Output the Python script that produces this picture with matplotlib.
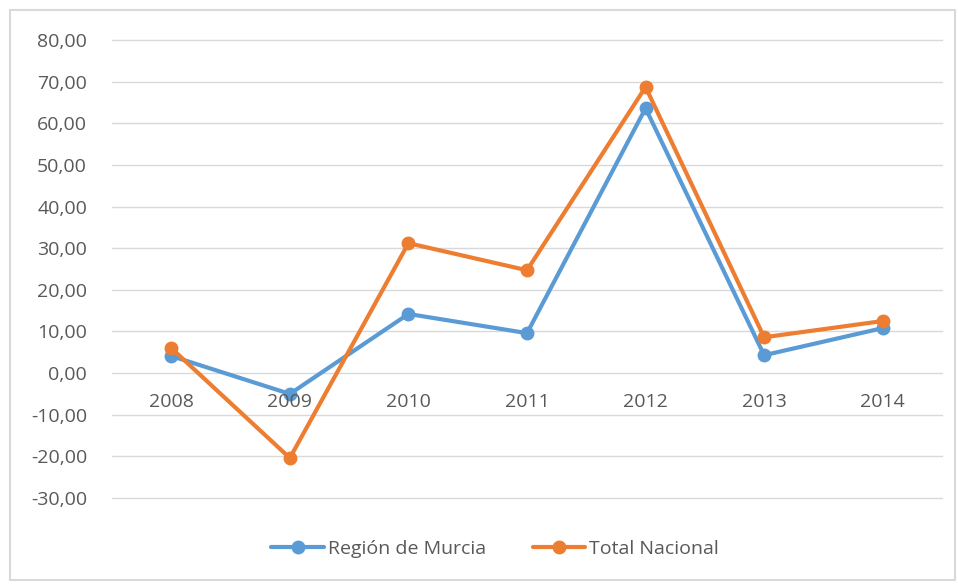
import matplotlib.pyplot as plt
from matplotlib.patches import Rectangle

# ====== Data ====== #
YEARS = ["2008", "2009", "2010", "2011", "2012", "2013", "2014"]
MURCIA = [4.1, -5.0, 14.2, 9.6, 63.6, 4.3, 10.8]
NACIONAL = [6.0, -20.4, 31.2, 24.7, 68.7, 8.6, 12.5]
Y_TICKS = [-30, -20, -10, 0, 10, 20, 30, 40, 50, 60, 70, 80]

# ====== Style ====== #
BLUE = "#5B9BD5"
ORANGE = "#ED7D31"
GRID = "#D9D9D9"
TEXT = "#595959"
FONT = "Open Sans"
FS = 14
W, H = 958, 584

fig = plt.figure(figsize=(W / 100, H / 100), dpi=100)
fig.patch.set_facecolor("white")
fig.patches.append(Rectangle((10 / W, 4 / H), 945 / W, 1 - 14 / H, transform=fig.transFigure,
                             fill=False, edgecolor=GRID, linewidth=1.5))

ax = fig.add_axes([112 / W, 1 - 498 / H, (942 - 112) / W, (498 - 40) / H])
x = list(range(len(YEARS)))

for yv in Y_TICKS:
    ax.axhline(yv, color=GRID, linewidth=1, zorder=0, clip_on=False)

ax.plot(x, MURCIA, color=BLUE, linewidth=3, marker="o", markersize=9,
        label="Región de Murcia", solid_capstyle="round", zorder=3)
ax.plot(x, NACIONAL, color=ORANGE, linewidth=3, marker="o", markersize=9,
        label="Total Nacional", solid_capstyle="round", zorder=4)

ax.set_xlim(-0.5, len(YEARS) - 0.5)
ax.set_ylim(-30, 80)
ax.set_yticks(Y_TICKS)
ax.set_yticklabels([f"{v:.2f}".replace(".", ",") for v in Y_TICKS],
                   fontfamily=FONT, fontsize=FS, color=TEXT)
ax.tick_params(axis="y", length=0, pad=18)
ax.set_xticks([])
for s in ax.spines.values():
    s.set_visible(False)

# category labels sit just under the zero line
for i, yr in enumerate(YEARS):
    ax.annotate(yr, (i, 0), xytext=(0, -14), textcoords="offset points",
                ha="center", va="top", fontfamily=FONT, fontsize=FS, color=TEXT)

leg = fig.legend(loc="center", bbox_to_anchor=(495 / W, 1 - 549 / H), ncol=2,
                 frameon=False, prop={"family": FONT, "size": FS},
                 handlelength=2.7, columnspacing=2.4, handletextpad=0.2)
for t in leg.get_texts():
    t.set_color(TEXT)

fig.savefig("out.png", dpi=100)
